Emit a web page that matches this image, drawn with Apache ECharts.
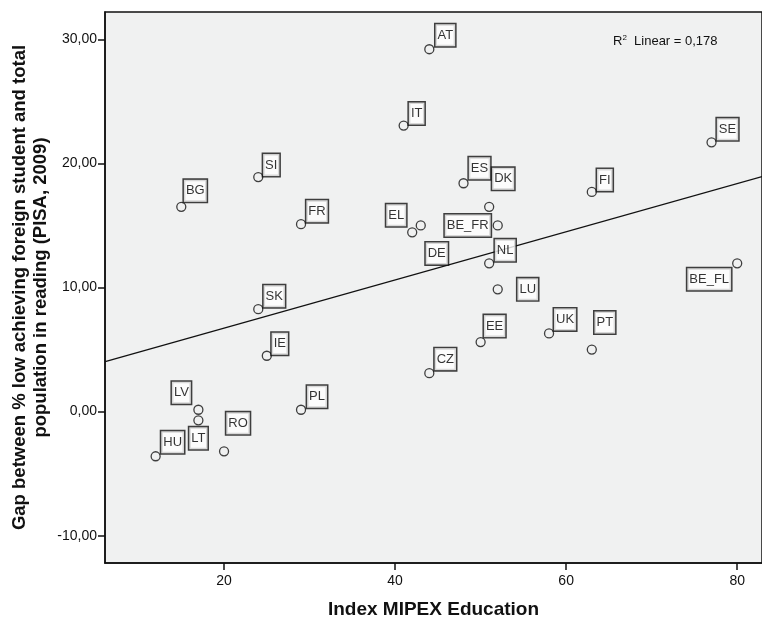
<!DOCTYPE html>
<html><head><meta charset="utf-8">
<script src="https://cdn.jsdelivr.net/npm/echarts@6/dist/echarts.min.js"></script>
<style>html,body{margin:0;padding:0;background:#fff}#c{width:762px;height:621px}</style>
</head><body><div id="c"></div>
<script>
// Data
const countries = ['AT','IT','SE','ES','DK','FI','EL','DE','BE_FR','NL','LU','BE_FL','CZ','EE','UK','PT','BG','SI','FR','SK','IE','LV','LT','HU','RO','PL'];
const mipexEducation = [44,41,77,48,51,63,42,43,52,51,52,80,44,50,58,63,15,24,29,24,25,17,17,12,20,29];
const readingGap = [29.2,23.05,21.7,18.4,16.5,17.7,14.45,15.0,15.0,11.95,9.85,11.95,3.1,5.6,6.3,5.0,16.5,18.9,15.1,8.25,4.5,0.15,-0.7,-3.6,-3.2,0.15];
const fitX = [6.1, 82.9];
const fitY = [4.03, 18.94];
const xTicks = [20, 40, 60, 80];
const yTicks = [-10, 0, 10, 20, 30];
const rSquared = '0,178';

// label placement (pixel offsets from the point), styling only
const labelOffset = {
  AT:[16,-14], IT:[13,-12], SE:[16,-13], ES:[16,-15], DK:[14,-28], FI:[13,-12],
  EL:[-16,-17], DE:[16,28], BE_FR:[-30,0], NL:[16,-13], LU:[30,0], BE_FL:[-28,16],
  CZ:[16,-14], EE:[14,-16], UK:[16,-14], PT:[13,-27], BG:[14,-16], SI:[13,-12],
  FR:[16,-13], SK:[16,-13], IE:[13,-12], LV:[-17,-17], LT:[0,18], HU:[17,-14],
  RO:[14,-28], PL:[16,-13]
};

const font = 'Liberation Sans, Arial, sans-serif';
const points = countries.map((c, i) => ({
  name: c,
  value: [mipexEducation[i], readingGap[i]],
  label: { offset: labelOffset[c] }
}));

const chart = echarts.init(document.getElementById('c'), null, {renderer: 'canvas'});
chart.setOption({
  animation: false,
  backgroundColor: '#fff',
  grid: { left: 105, top: 12, right: 0, bottom: 58, show: true, backgroundColor: '#f0f1f1',
    borderColor: '#111', borderWidth: 1.5, containLabel: false, outerBoundsMode: 'none' },
  xAxis: {
    type: 'value', min: 6.08, max: 82.9,
    name: 'Index MIPEX Education', nameLocation: 'middle', nameGap: 37, nameMoveOverlap: false,
    nameTextStyle: { fontFamily: font, fontWeight: 'bold', fontSize: 19, color: '#111' },
    axisLine: { show: true, onZero: false, lineStyle: { color: '#111', width: 1.5 } },
    axisTick: { show: true, inside: false, customValues: xTicks, length: 7, lineStyle: { color: '#111', width: 1.5 } },
    axisLabel: { customValues: xTicks, fontFamily: font, fontSize: 14, color: '#111', margin: 11 },
    splitLine: { show: false }
  },
  yAxis: {
    type: 'value', min: -12.2, max: 32.2,
    name: 'Gap between % low achieving foreign student and total\npopulation in reading (PISA, 2009)',
    nameLocation: 'middle', nameGap: 54, nameRotate: 90, nameMoveOverlap: false,
    nameTextStyle: { fontFamily: font, fontWeight: 'bold', fontSize: 18.5, color: '#111', lineHeight: 21 },
    axisLine: { show: true, onZero: false, lineStyle: { color: '#111', width: 1.5 } },
    axisTick: { show: true, inside: false, customValues: yTicks, length: 7, lineStyle: { color: '#111', width: 1.5 } },
    axisLabel: { customValues: yTicks, fontFamily: font, fontSize: 14, color: '#111', margin: 8,
      formatter: v => v.toFixed(2).replace('.', ',') },
    splitLine: { show: false }
  },
  series: [
    {
      type: 'line', data: fitX.map((x, i) => [x, fitY[i]]), symbol: 'none',
      lineStyle: { color: '#111', width: 1.3 }, silent: true, z: 2
    },
    {
      type: 'scatter', data: points, symbol: 'circle', symbolSize: 9,
      itemStyle: { color: 'rgba(0,0,0,0)', borderColor: '#111', borderWidth: 1.3 },
      label: {
        show: true, position: 'inside', formatter: p => p.name,
        fontFamily: font, fontSize: 13, color: '#000', lineHeight: 15,
        textBorderWidth: 0, textBorderColor: 'transparent',
        backgroundColor: '#fff', borderColor: '#111', borderWidth: 1.5,
        padding: [4, 2, 3, 2], align: 'center', verticalAlign: 'middle'
      },
      z: 3
    }
  ],
  graphic: [{
    type: 'text', left: 613, top: 34,
    style: {
      text: '{a|R}{s|2}{a|  Linear = ' + rSquared + '}',
      rich: {
        a: { fontFamily: font, fontSize: 13, fill: '#111', verticalAlign: 'bottom' },
        s: { fontFamily: font, fontSize: 8, fill: '#111', verticalAlign: 'top', padding: [0,0,6,0] }
      }
    }
  }]
});
</script></body></html>
